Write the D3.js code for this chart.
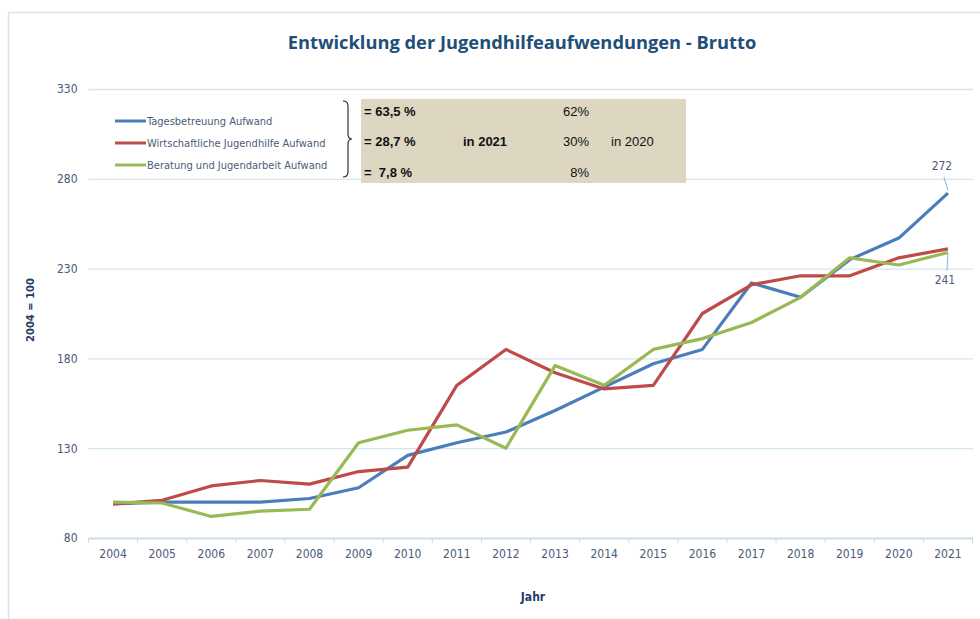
<!DOCTYPE html>
<html>
<head>
<meta charset="utf-8">
<script src="https://cdn.jsdelivr.net/npm/d3@7"></script>
<style>
  body { margin: 0; background: #fff; }
  svg { display: block; }
  .tick text { fill: #4a5a78; }
</style>
</head>
<body>
<svg id="chart" width="980" height="619"></svg>
<script>
// chart data
const years = [2004, 2005, 2006, 2007, 2008, 2009, 2010, 2011, 2012, 2013, 2014, 2015, 2016, 2017, 2018, 2019, 2020, 2021];
const tagesbetreuung = [99, 100, 100, 100, 102, 108, 126, 133, 139, 151, 164, 177, 185, 222, 214, 235, 247, 272];
const wirtschaftlich = [99, 101, 109, 112, 110, 117, 119.5, 165, 185, 172, 163, 165, 205, 221, 226, 226, 236, 241];
const beratung = [100, 99.5, 92, 95, 96, 133, 140, 143, 130, 176, 165, 185, 191, 200, 214, 236, 232, 239];
const seriesNames = ["Tagesbetreuung Aufwand", "Wirtschaftliche Jugendhilfe Aufwand", "Beratung und Jugendarbeit Aufwand"];
const yTicks = [80, 130, 180, 230, 280, 330];
const share2021 = ["= 63,5 %", "= 28,7 %", "=  7,8 %"];
const share2020 = ["62%", "30%", "8%"];

const colors = ["#4a7ebb", "#be4b48", "#98b954"];
const narrow = "'DejaVu Sans Condensed', 'DejaVu Sans', sans-serif";

const svg = d3.select("#chart");
const margin = { top: 89, right: 7, bottom: 81, left: 88.5 };
const width = 980 - margin.left - margin.right;
const height = 619 - margin.top - margin.bottom;

// outer frame
svg.append("rect")
  .attr("x", 8.5).attr("y", 12.5)
  .attr("width", 990).attr("height", 620)
  .attr("fill", "none")
  .attr("stroke", "#d3e5ef")
  .attr("stroke-width", 1.5);

svg.append("text")
  .attr("x", 522).attr("y", 49)
  .attr("text-anchor", "middle")
  .attr("font-family", "'Open Sans', sans-serif")
  .attr("font-weight", "bold")
  .attr("font-size", "18.3px")
  .attr("fill", "#1f4e79")
  .text("Entwicklung der Jugendhilfeaufwendungen - Brutto");

const g = svg.append("g")
  .attr("transform", "translate(" + margin.left + "," + margin.top + ")");

const x = d3.scaleBand().domain(years).range([0, 884]);
const y = d3.scaleLinear().domain([80, 330]).range([height, 0]);
const cx = d => x(d) + x.bandwidth() / 2;

// y grid + labels
const yAxis = g.append("g")
  .call(d3.axisLeft(y).tickValues(yTicks).tickSize(-width).tickPadding(11));
yAxis.select(".domain").remove();
yAxis.selectAll(".tick line").attr("stroke", "#d3e5f0").attr("stroke-width", 1.3);
yAxis.selectAll(".tick text")
  .attr("font-family", narrow)
  .attr("font-size", "12px");

// x axis
const xAxis = g.append("g")
  .attr("transform", "translate(0," + height + ")")
  .call(d3.axisBottom(x).tickSize(0).tickPadding(11));
xAxis.select(".domain").attr("stroke", "#c6dbe8").attr("stroke-width", 1.3);
xAxis.selectAll(".tick text")
  .attr("font-family", narrow)
  .attr("font-size", "12px");
g.append("g").selectAll("line")
  .data(years.concat(["end"]))
  .join("line")
  .attr("x1", (d, i) => i * x.step())
  .attr("x2", (d, i) => i * x.step())
  .attr("y1", height).attr("y2", height + 5)
  .attr("stroke", "#c6dbe8");

svg.append("text")
  .attr("x", 533).attr("y", 601)
  .attr("text-anchor", "middle")
  .attr("font-family", narrow)
  .attr("font-weight", "bold")
  .attr("font-size", "12px")
  .attr("fill", "#1f3d66")
  .text("Jahr");

svg.append("text")
  .attr("transform", "translate(34,310) rotate(-90)")
  .attr("text-anchor", "middle")
  .attr("font-family", "'DejaVu Sans', sans-serif")
  .attr("font-weight", "bold")
  .attr("font-size", "10px")
  .attr("fill", "#1f3d66")
  .text("2004 = 100");

// lines
const allSeries = [tagesbetreuung, wirtschaftlich, beratung];
const line = d3.line().x((d, i) => cx(years[i])).y(d => y(d));
g.selectAll(".series")
  .data(allSeries)
  .join("path")
  .attr("class", "series")
  .attr("d", line)
  .attr("fill", "none")
  .attr("stroke", (d, i) => colors[i])
  .attr("stroke-width", 3.2)
  .attr("stroke-linejoin", "round");

// end labels
const last = years[years.length - 1];
const endLabels = [
  { v: tagesbetreuung[tagesbetreuung.length - 1], dx: -4, dy: -23, anchorDy: -3, lineEnd: -16 },
  { v: wirtschaftlich[wirtschaftlich.length - 1], dx: -1, dy: 35, anchorDy: 4, lineEnd: 22 }
];
endLabels.forEach(l => {
  const px = cx(last), py = y(l.v);
  g.append("line")
    .attr("x1", px).attr("y1", py + l.anchorDy)
    .attr("x2", px + l.dx).attr("y2", py + l.lineEnd)
    .attr("stroke", "#8fb4d6").attr("stroke-width", 1);
  g.append("text")
    .attr("x", px + l.dx - 2).attr("y", py + l.dy)
    .attr("text-anchor", "middle")
    .attr("font-family", narrow)
    .attr("font-size", "12px")
    .attr("fill", "#4a5a78")
    .text(l.v);
});

// share box
svg.append("rect")
  .attr("x", 361).attr("y", 99)
  .attr("width", 325).attr("height", 84)
  .attr("fill", "#ddd6c1");

const rowY = [116, 146, 177];
const boxText = (xp, yp, t, bold, anchor) => svg.append("text")
  .attr("x", xp).attr("y", yp)
  .attr("text-anchor", anchor || "start")
  .attr("font-family", "'Liberation Sans', Arial, sans-serif")
  .attr("font-weight", bold ? "bold" : "normal")
  .attr("font-size", "13px")
  .attr("fill", "#111")
  .style("white-space", "pre")
  .text(t);
share2021.forEach((t, i) => boxText(364, rowY[i], t, true));
share2020.forEach((t, i) => boxText(589, rowY[i], t, false, "end"));
boxText(463, rowY[1], "in 2021", true);
boxText(611, rowY[1], "in 2020", false);

// brace
svg.append("path")
  .attr("d", "M343,101 Q348,101 348,106 L348,134 Q348,139 352,139 Q348,139 348,144 L348,172 Q348,177 343,177")
  .attr("fill", "none")
  .attr("stroke", "#222")
  .attr("stroke-width", 1.1);

// legend
const legend = svg.append("g");
seriesNames.forEach((name, i) => {
  const ly = 121 + i * 22;
  legend.append("line")
    .attr("x1", 115).attr("x2", 146)
    .attr("y1", ly).attr("y2", ly)
    .attr("stroke", colors[i]).attr("stroke-width", 3);
  legend.append("text")
    .attr("x", 147).attr("y", ly + 4)
    .attr("font-family", narrow)
    .attr("font-size", "11px")
    .attr("fill", "#4a5a78")
    .text(name);
});
</script>
</body>
</html>
